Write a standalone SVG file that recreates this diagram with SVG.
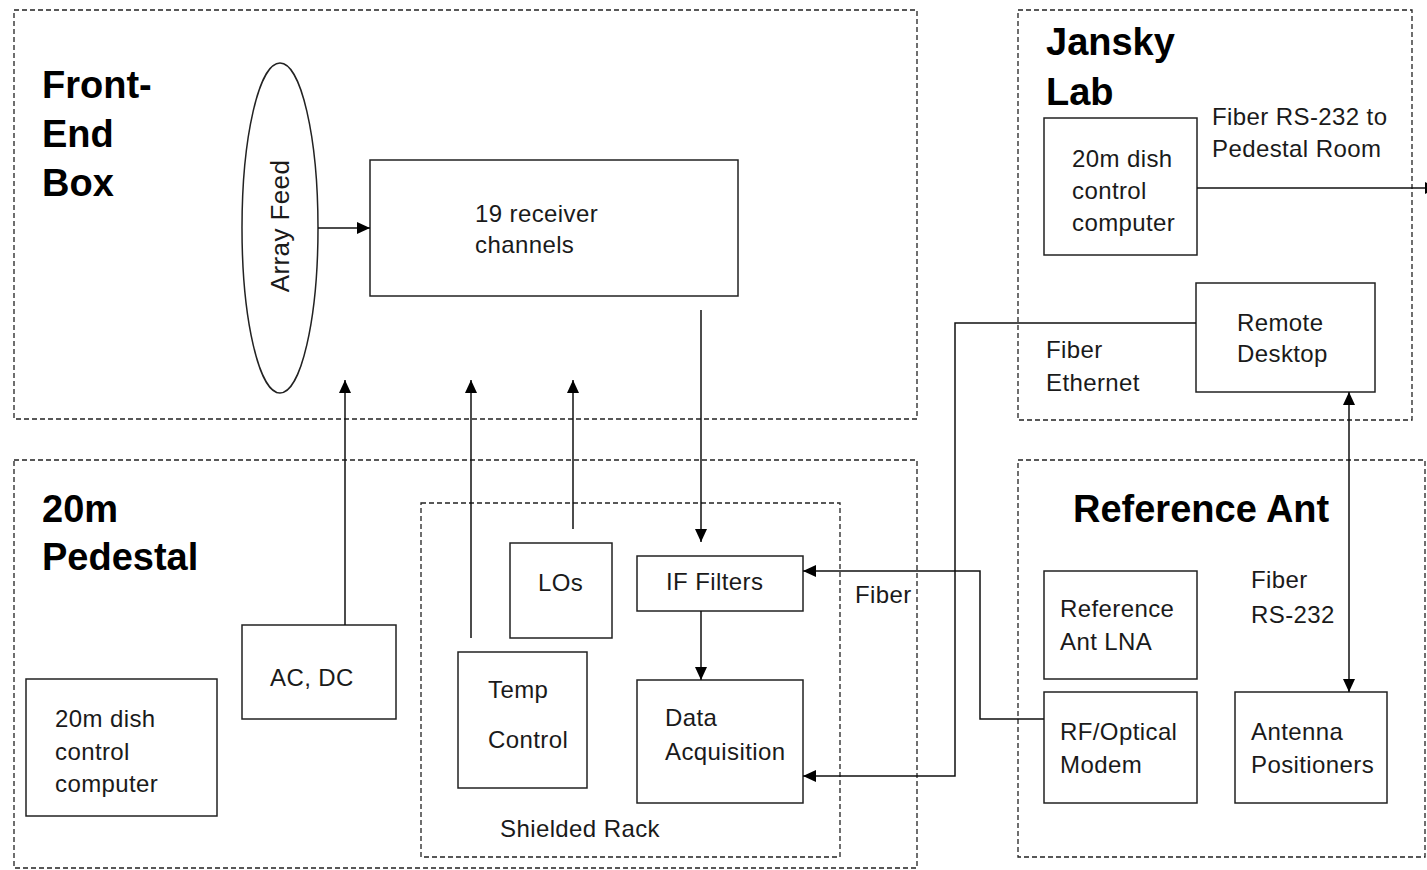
<svg xmlns="http://www.w3.org/2000/svg" width="1427" height="870" viewBox="0 0 1427 870">
<style>
.zone{fill:none;stroke:#222;stroke-width:1.3;stroke-dasharray:5,3}
.box{fill:#fff;stroke:#222;stroke-width:1.5}
.t{font-family:"Liberation Sans",Arial,sans-serif;font-size:24px;letter-spacing:0.4px;fill:#1a1a1a}
.h{font-family:"Liberation Sans",Arial,sans-serif;font-size:38px;font-weight:bold;fill:#000}
.c{fill:none;stroke:#111;stroke-width:1.5}
</style>
<defs>
<marker id="ah" viewBox="0 0 13 12" refX="13" refY="6" markerWidth="13" markerHeight="12" markerUnits="userSpaceOnUse" orient="auto-start-reverse">
<path d="M0,0 L13,6 L0,12 z" fill="#000"/>
</marker>
</defs>
<rect width="1427" height="870" fill="#fff"/>

<g id="front-end-box">
<rect class="zone" x="14" y="10" width="903" height="409"/>
<text class="h" x="42" y="98">Front-</text>
<text class="h" x="42" y="147">End</text>
<text class="h" x="42" y="196">Box</text>
</g>
<g id="jansky-lab">
<rect class="zone" x="1018" y="10" width="394" height="410"/>
<text class="h" x="1046" y="55">Jansky</text>
<text class="h" x="1046" y="105">Lab</text>
</g>
<g id="pedestal">
<rect class="zone" x="14" y="460" width="903" height="408"/>
<text class="h" x="42" y="522">20m</text>
<text class="h" x="42" y="570">Pedestal</text>
</g>
<g id="reference-ant">
<rect class="zone" x="1018" y="460" width="407" height="397"/>
<text class="h" x="1073" y="522">Reference Ant</text>
</g>
<g id="shielded-rack">
<rect class="zone" x="421" y="503" width="419" height="354"/>
<text class="t" x="500" y="837">Shielded Rack</text>
</g>

<g id="array-feed">
<ellipse cx="280" cy="228" rx="38" ry="165" fill="#fff" stroke="#222" stroke-width="1.5"/>
<text class="t" style="font-size:26px" text-anchor="middle" transform="translate(289,226) rotate(-90)">Array Feed</text>
</g>
<g id="receiver-channels">
<rect class="box" x="370" y="160" width="368" height="136"/>
<text class="t" x="475" y="222">19 receiver</text>
<text class="t" x="475" y="253">channels</text>
</g>
<g id="jansky-computer">
<rect class="box" x="1044" y="118" width="153" height="137"/>
<text class="t" x="1072" y="167">20m dish</text>
<text class="t" x="1072" y="199">control</text>
<text class="t" x="1072" y="231">computer</text>
</g>
<g id="remote-desktop">
<rect class="box" x="1196" y="283" width="179" height="109"/>
<text class="t" x="1237" y="331">Remote</text>
<text class="t" x="1237" y="362">Desktop</text>
</g>
<g id="pedestal-computer">
<rect class="box" x="26" y="679" width="191" height="137"/>
<text class="t" x="55" y="727">20m dish</text>
<text class="t" x="55" y="760">control</text>
<text class="t" x="55" y="792">computer</text>
</g>
<g id="ac-dc">
<rect class="box" x="242" y="625" width="154" height="94"/>
<text class="t" x="270" y="686">AC, DC</text>
</g>
<g id="temp-control">
<rect class="box" x="458" y="652" width="129" height="136"/>
<text class="t" x="488" y="698">Temp</text>
<text class="t" x="488" y="748">Control</text>
</g>
<g id="los">
<rect class="box" x="510" y="543" width="102" height="95"/>
<text class="t" x="538" y="591">LOs</text>
</g>
<g id="if-filters">
<rect class="box" x="637" y="556" width="166" height="55"/>
<text class="t" x="666" y="590">IF Filters</text>
</g>
<g id="data-acquisition">
<rect class="box" x="637" y="680" width="166" height="123"/>
<text class="t" x="665" y="726">Data</text>
<text class="t" x="665" y="760">Acquisition</text>
</g>
<g id="reference-lna">
<rect class="box" x="1044" y="571" width="153" height="108"/>
<text class="t" x="1060" y="617">Reference</text>
<text class="t" x="1060" y="650">Ant LNA</text>
</g>
<g id="rf-optical-modem">
<rect class="box" x="1044" y="692" width="153" height="111"/>
<text class="t" x="1060" y="740">RF/Optical</text>
<text class="t" x="1060" y="773">Modem</text>
</g>
<g id="antenna-positioners">
<rect class="box" x="1235" y="692" width="152" height="111"/>
<text class="t" x="1251" y="740">Antenna</text>
<text class="t" x="1251" y="773">Positioners</text>
</g>

<g id="connectors">
<line class="c" x1="318" y1="228" x2="370" y2="228" marker-end="url(#ah)"/>
<line class="c" x1="345" y1="625" x2="345" y2="380" marker-end="url(#ah)"/>
<line class="c" x1="471" y1="638" x2="471" y2="380" marker-end="url(#ah)"/>
<line class="c" x1="573" y1="529" x2="573" y2="380" marker-end="url(#ah)"/>
<line class="c" x1="701" y1="310" x2="701" y2="542" marker-end="url(#ah)"/>
<line class="c" x1="701" y1="611" x2="701" y2="680" marker-end="url(#ah)"/>
<polyline class="c" points="1044,719 980,719 980,571 803,571" marker-end="url(#ah)"/>
<polyline class="c" points="1196,323 955,323 955,776 803,776" marker-end="url(#ah)"/>
<line class="c" x1="1349" y1="392" x2="1349" y2="692" marker-start="url(#ah)" marker-end="url(#ah)"/>
<line class="c" x1="1197" y1="188" x2="1438" y2="188" marker-end="url(#ah)"/>
</g>
<g id="labels">
<text class="t" x="1212" y="125">Fiber RS-232 to</text>
<text class="t" x="1212" y="157">Pedestal Room</text>
<text class="t" x="1046" y="358">Fiber</text>
<text class="t" x="1046" y="391">Ethernet</text>
<text class="t" x="855" y="603">Fiber</text>
<text class="t" x="1251" y="588">Fiber</text>
<text class="t" x="1251" y="623">RS-232</text>
</g>
</svg>
